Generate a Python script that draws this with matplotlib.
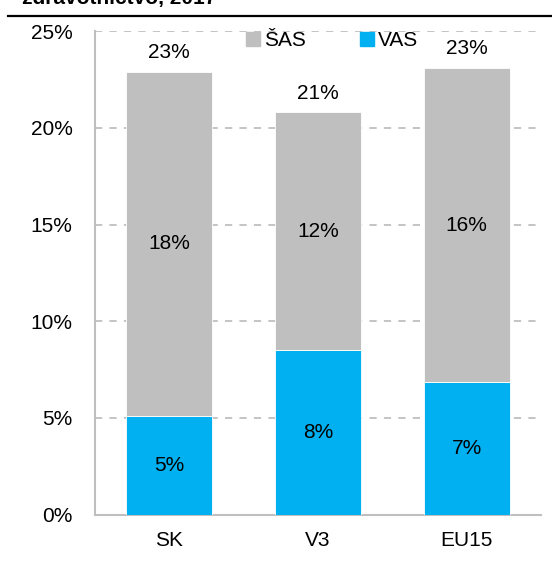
import matplotlib

matplotlib.use("Agg")
import matplotlib.pyplot as plt
import numpy as np
from matplotlib.patches import Patch

plt.rcParams["font.family"] = ["Liberation Sans", "DejaVu Sans"]

categories = ["SK", "V3", "EU15"]
vas = [5.1, 8.5, 6.85]
sas = [17.8, 12.3, 16.25]
vas_labels = ["5%", "8%", "7%"]
sas_labels = ["18%", "12%", "16%"]
total_labels = ["23%", "21%", "23%"]
yticks = [0, 5, 10, 15, 20, 25]

GRAY = "#bfbfbf"
BLUE = "#00b0f0"
FS = 15

fig = plt.figure(figsize=(5.52, 5.62), dpi=100)
ax = fig.add_axes([0.172, 0.0845, 0.808, 0.860])

x = np.arange(len(categories))
w = 0.58
ax.bar(x, vas, w, color=BLUE, edgecolor="white", linewidth=0.6, zorder=3)
ax.bar(x, sas, w, bottom=vas, color=GRAY, edgecolor="white", linewidth=0.6, zorder=3)

for i in range(len(categories)):
    ax.text(x[i], vas[i] / 2, vas_labels[i], ha="center", va="center", fontsize=FS, zorder=4)
    ax.text(x[i], vas[i] + sas[i] / 2, sas_labels[i], ha="center", va="center",
            fontsize=FS, zorder=4)
    ax.annotate(total_labels[i], (x[i], vas[i] + sas[i]), xytext=(0, 7),
                textcoords="offset points", ha="center", va="bottom", fontsize=FS, zorder=4)

ax.set_xlim(-0.5, 2.5)
ax.set_ylim(0, 25)
ax.set_yticks(yticks)
ax.set_yticklabels([f"{t}%" for t in yticks], fontsize=FS)
ax.set_xticks(x)
ax.set_xticklabels(categories, fontsize=FS)
ax.tick_params(axis="both", length=0)
ax.tick_params(axis="y", pad=16)
ax.tick_params(axis="x", pad=12)

for t in yticks[1:]:
    ax.axhline(t, color=GRAY, linestyle=(0, (4, 4)), linewidth=1.3, zorder=1)

for s in ["top", "right"]:
    ax.spines[s].set_visible(False)
for s in ["left", "bottom"]:
    ax.spines[s].set_color(GRAY)
    ax.spines[s].set_linewidth(1.5)

handles = [Patch(color=GRAY, label="ŠAS"), Patch(color=BLUE, label="VAS")]
ax.legend(handles=handles, loc="center", bbox_to_anchor=(0.532, 0.981), ncol=2,
          frameon=False, fontsize=FS, handlelength=0.65, handleheight=0.65,
          handletextpad=0.2, columnspacing=2.6, borderaxespad=0)

# title cut off at the top of the image, with a rule below it
fig.text(22 / 552, 1 - 4 / 562, "zdravotníctvo, 2017", fontsize=FS, fontweight="bold",
         ha="left", va="baseline")
fig.add_artist(plt.Line2D([8 / 552, 1], [1 - 15.5 / 562, 1 - 15.5 / 562], color="black",
                          linewidth=1.6, transform=fig.transFigure))

fig.savefig("out.png", dpi=100)
